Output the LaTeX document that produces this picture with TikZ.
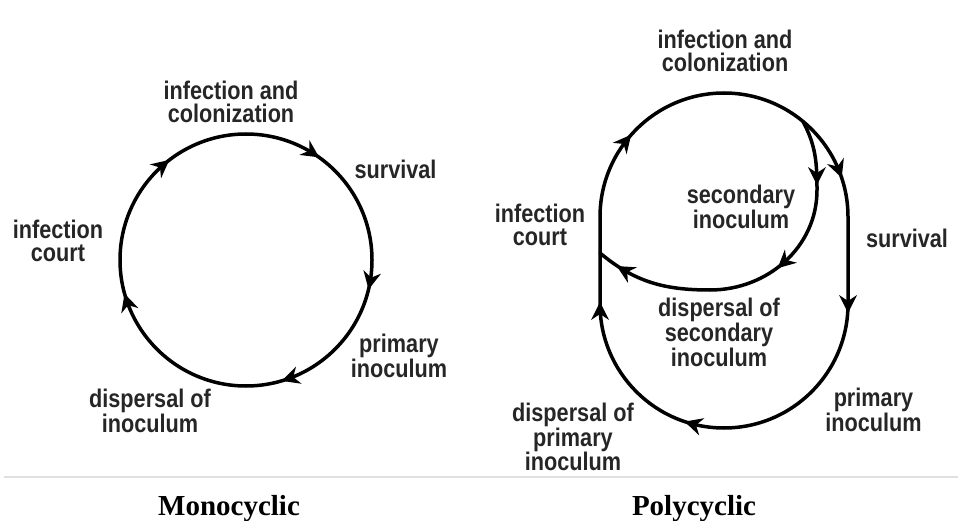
\documentclass[tikz,border=0pt]{standalone}
\usepackage{fontspec}
\setmainfont{Liberation Serif}
\newfontfamily\lblfont[FakeStretch=0.85]{Liberation Sans}
\usetikzlibrary{calc}
\newcommand\tipat[2]{\fill[black, shift={#1}, rotate=#2] (4pt,0pt) -- (-14pt,9pt) -- (-8pt,0pt) -- (-14pt,-9pt) -- cycle;}
\tikzset{
  cyc/.style={line width=3.5pt, black, line cap=round},
  lbl/.style={font=\lblfont\bfseries\fontsize{25.5}{23}\selectfont, text=black!85, align=center, inner sep=0pt},
  ttl/.style={font=\bfseries\fontsize{29}{30}\selectfont, inner sep=0pt, anchor=base},
}
\begin{document}
\begin{tikzpicture}[x=1pt,y=1pt]
\useasboundingbox (0,0) rectangle (958,520);
% ---------- Monocyclic ----------
\coordinate (L) at (246,260);
\draw[cyc] (L) circle[radius=126];
\tipat{($(L)+(129.3:126)$)}{39.3}
\tipat{($(L)+(56.3:126)$)}{-33.7}
\tipat{($(L)+(-11.7:126)$)}{-101.7}
\tipat{($(L)+(-71.7:126)$)}{-161.7}
\tipat{($(L)+(197.3:126)$)}{107.3}
\node[lbl] (linf) at (231,418) {infection and\\colonization};
\node[lbl] (lsurv) at (395.5,351) {survival};
\node[lbl] (lcourt) at (58,279) {infection\\court};
\node[lbl] (lprim) at (399,164) {primary\\inoculum};
\node[lbl] (ldisp) at (150,109) {dispersal of\\inoculum};
% ---------- Polycyclic ----------
\coordinate (T) at (724,303);
\coordinate (Bc) at (724,216);
\coordinate (S0) at (600,216);
\coordinate (S1) at (600,303);
\coordinate (S2) at (848,216);
\draw[cyc] (S0) -- (S1) arc[start angle=180,end angle=0,radius=124] -- (S2)
  arc[start angle=0,end angle=-180,radius=124] -- cycle;
\tipat{(600,214)}{90}
\tipat{($(T)+(140.3:124)$)}{50.3}
\tipat{($(T)+(20.3:124)$)}{-69.7}
\tipat{(848,211)}{-90}
\tipat{($(Bc)+(-106.7:124)$)}{-196.7}
\coordinate (Bp) at (803,398.5);
\coordinate (P1) at (817,330);
\coordinate (P2) at (710,230);
\coordinate (E) at (600,267);
\draw[cyc] (Bp) to[out=-62,in=90] (P1) to[out=-90,in=0] (P2) to[out=180,in=-40] (E);
\tipat{(816.9,339)}{-90}
\tipat{(780.6,254.5)}{-137.7}
\tipat{(620.3,251.9)}{150}
\node[lbl] (rinf) at (725,469) {infection and\\colonization};
\node[lbl] (rsec) at (741,313) {secondary\\inoculum};
\node[lbl] (rcourt) at (540,295) {infection\\court};
\node[lbl] (rsurv) at (907,281.5) {survival};
\node[lbl] (rdsec) at (719,187.5) {dispersal of\\secondary\\inoculum};
\node[lbl] (rprim) at (873.5,110) {primary\\inoculum};
\node[lbl] (rdprim) at (573,83) {dispersal of\\primary\\inoculum};
% ---------- captions ----------
\coordinate (g0) at (4,43);
\coordinate (g1) at (958,43);
\draw[black!12, line width=2pt] (g0) -- (g1);
\node[ttl] (mono) at (229,5) {Monocyclic};
\node[ttl] (poly) at (694,5) {Polycyclic};
\end{tikzpicture}
\end{document}
